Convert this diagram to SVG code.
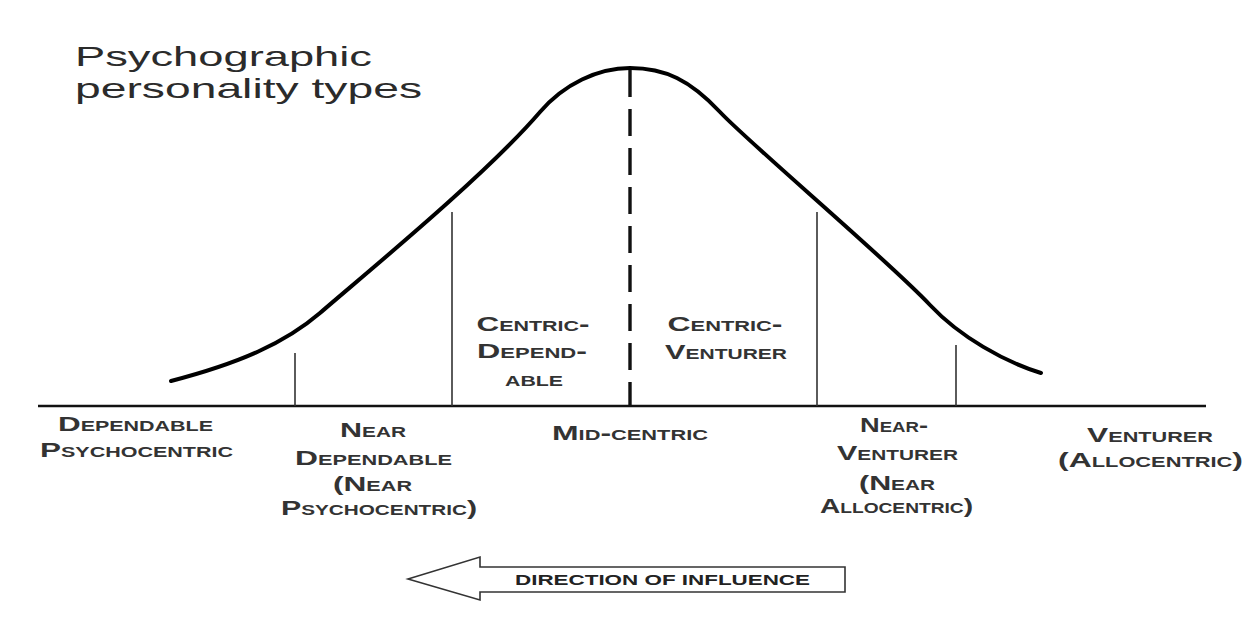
<svg xmlns="http://www.w3.org/2000/svg" width="1253" height="617" viewBox="0 0 1253 617">
  <style>
    .title { font-family: "Liberation Sans", Arial, sans-serif; font-size: 28px; fill: #2b2b2b; }
    .sc { font-family: "Liberation Sans", Arial, sans-serif; font-size: 20.5px; font-weight: bold; font-variant: small-caps; fill: #333; text-anchor: middle; }
    .axis { stroke: #111; stroke-width: 2.6; fill: none; }
    .curve { stroke: #000; stroke-width: 4; fill: none; stroke-linecap: round; }
    .divider { stroke: #333; stroke-width: 1.6; fill: none; }
    .mid { stroke: #111; stroke-width: 3.4; fill: none; stroke-dasharray: 27 12; }
    .arrow { fill: #fff; stroke: #333; stroke-width: 1.6; stroke-linejoin: miter; }
    .arrowtext { font-family: "Liberation Sans", Arial, sans-serif; font-size: 15px; font-weight: bold; fill: #222; }
  </style>

  <rect width="1253" height="617" fill="#ffffff"/>

  <!-- heading -->
  <g id="title">
    <text class="title" x="75" y="66" textLength="297" lengthAdjust="spacingAndGlyphs">Psychographic</text>
    <text class="title" x="75" y="98" textLength="347" lengthAdjust="spacingAndGlyphs">personality types</text>
  </g>

  <!-- bell curve, axis and segment dividers -->
  <g id="connectors">
    <line class="axis" x1="38" y1="406" x2="1206" y2="406"/>
    <path id="bell-curve" class="curve" d="M171,381 C240,363 285,343 320,313 C365,274 485,176 540,112 C564,84 598,68 630,68 C665,68 690,80 720,112 C750,144 890,262 930,305 C960,337 1005,362 1041,373"/>
    <line class="divider" x1="295" y1="353" x2="295" y2="406"/>
    <line class="divider" x1="452" y1="212" x2="452" y2="406"/>
    <line class="mid" x1="630" y1="70" x2="630" y2="406"/>
    <line class="divider" x1="817" y1="212" x2="817" y2="406"/>
    <line class="divider" x1="956" y1="345" x2="956" y2="406"/>
  </g>

  <!-- segment labels -->
  <g id="dependable-psychocentric">
    <text class="sc" x="135.5" y="431" textLength="155" lengthAdjust="spacingAndGlyphs">Dependable</text>
    <text class="sc" x="136.5" y="457" textLength="193" lengthAdjust="spacingAndGlyphs">Psychocentric</text>
  </g>

  <g id="near-dependable">
    <text class="sc" x="373" y="437" textLength="66" lengthAdjust="spacingAndGlyphs">Near</text>
    <text class="sc" x="373.5" y="465" textLength="157" lengthAdjust="spacingAndGlyphs">Dependable</text>
    <text class="sc" x="372.5" y="491" textLength="79" lengthAdjust="spacingAndGlyphs">(Near</text>
    <text class="sc" x="379" y="515" textLength="196" lengthAdjust="spacingAndGlyphs">Psychocentric)</text>
  </g>

  <g id="centric-dependable">
    <text class="sc" x="533" y="331" textLength="113" lengthAdjust="spacingAndGlyphs">Centric-</text>
    <text class="sc" x="532" y="358" textLength="110" lengthAdjust="spacingAndGlyphs">Depend-</text>
    <text class="sc" x="534" y="386" textLength="58" lengthAdjust="spacingAndGlyphs">able</text>
  </g>

  <g id="centric-venturer">
    <text class="sc" x="725" y="331" textLength="115" lengthAdjust="spacingAndGlyphs">Centric-</text>
    <text class="sc" x="726" y="359" textLength="122" lengthAdjust="spacingAndGlyphs">Venturer</text>
  </g>

  <g id="mid-centric">
    <text class="sc" x="630" y="440" textLength="156" lengthAdjust="spacingAndGlyphs">Mid-centric</text>
  </g>

  <g id="near-venturer">
    <text class="sc" x="894" y="432" textLength="68" lengthAdjust="spacingAndGlyphs">Near-</text>
    <text class="sc" x="897.5" y="460" textLength="121" lengthAdjust="spacingAndGlyphs">Venturer</text>
    <text class="sc" x="897" y="490" textLength="76" lengthAdjust="spacingAndGlyphs">(Near</text>
    <text class="sc" x="896.5" y="513" textLength="153" lengthAdjust="spacingAndGlyphs">Allocentric)</text>
  </g>

  <g id="venturer-allocentric">
    <text class="sc" x="1150" y="442" textLength="126" lengthAdjust="spacingAndGlyphs">Venturer</text>
    <text class="sc" x="1150.5" y="467" textLength="185" lengthAdjust="spacingAndGlyphs">(Allocentric)</text>
  </g>

  <!-- hollow arrow pointing left -->
  <g id="direction-of-influence">
    <polygon class="arrow" points="408,579 480,557 480,567 845,567 845,592 480,592 480,600"/>
    <text class="arrowtext" x="515" y="585" textLength="295" lengthAdjust="spacingAndGlyphs">DIRECTION OF INFLUENCE</text>
  </g>
</svg>
